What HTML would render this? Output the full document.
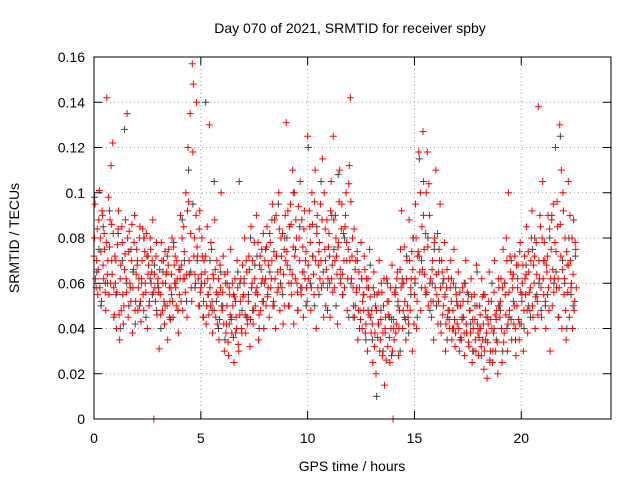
<!DOCTYPE html>
<html><head><meta charset="utf-8"><style>
body{margin:0;background:#fff}
svg{display:block;font-family:"Liberation Sans",sans-serif}
</style></head><body>
<svg id="chart" width="640" height="480" viewBox="0 0 640 480">
<text x="350" y="33" text-anchor="middle" font-size="14">Day 070 of 2021, SRMTID for receiver spby</text>
<text transform="translate(19,238) rotate(-90)" text-anchor="middle" font-size="14">SRMTID / TECUs</text>
<text x="352" y="471" text-anchor="middle" font-size="14">GPS time / hours</text>
<g id="grid"></g>
<g id="ticks"></g>
<g id="black"></g>
<g id="red"></g>
<rect x="94" y="57" width="517" height="362" fill="none" stroke="#000" stroke-width="1"/>
</svg>
<script>
const yTicks=[0,0.02,0.04,0.06,0.08,0.1,0.12,0.14,0.16];
const yTickLabels=["0","0.02","0.04","0.06","0.08","0.1","0.12","0.14","0.16"];
const xTicks=[0,5,10,15,20];
const xTickLabels=["0","5","10","15","20"];
const binHours=0.2;
// red series, values in thousandths of TECU, 4 samples per 0.2 h bin
const redBins=[
[72,95,58,84],[66,101,80,52],[90,62,75,48],[142,70,55,88],[112,64,82,46],
[60,40,77,92],[35,68,85,55],[50,73,62,135],[45,83,58,70],[38,66,90,52],
[75,48,62,85],[43,70,55,80],[60,82,40,68],[52,75,65,88],[0,58,72,46],
[62,31,55,78],[48,70,42,60],[65,35,75,52],[58,80,45,68],[72,50,62,38],
[55,90,68,48],[85,62,100,45],[120,70,135,58],[157,148,80,60],[140,72,50,92],
[58,80,45,70],[65,42,85,55],[130,50,75,38],[62,88,45,70],[55,35,68,100],
[48,72,30,60],[42,65,28,55],[75,38,50,25],[62,45,70,33],[105,52,40,68],
[55,80,38,65],[45,72,32,85],[60,42,78,50],[90,55,35,68],[48,75,62,40],
[70,50,85,58],[45,78,62,95],[52,88,40,72],[65,100,48,80],[58,42,75,90],
[131,68,50,85],[95,55,110,42],[72,88,60,48],[80,105,55,65],[45,92,70,58],
[125,62,85,48],[100,72,55,110],[40,90,68,78],[95,58,115,45],[75,50,88,62],
[82,45,105,68],[125,58,90,72],[42,78,110,60],[95,55,70,85],[100,48,75,112],
[142,62,80,50],[45,70,58,35],[65,48,78,40],[55,72,38,62],[30,58,75,45],
[48,25,65,38],[20,55,42,70],[35,60,28,50],[15,45,62,32],[52,25,40,68],
[0,35,55,42],[65,28,48,75],[92,40,60,52],[35,70,45,88],[48,62,30,80],
[55,95,40,72],[118,65,48,85],[127,75,58,100],[118,50,90,62],[45,70,35,80],
[110,55,42,75],[95,38,65,50],[78,30,58,45],[62,40,70,35],[48,75,32,55],
[42,65,30,50],[35,58,45,28],[70,38,52,32],[48,62,25,40],[55,35,68,42],
[28,50,40,62],[35,22,55,45],[18,42,65,30],[52,25,38,70],[30,48,20,58],
[45,62,25,75],[38,55,80,30],[100,48,65,35],[58,42,72,28],[50,68,35,78],
[42,60,30,72],[55,85,38,65],[48,70,92,45],[60,40,78,52],[138,62,85,45],
[105,55,70,40],[65,90,48,30],[75,50,95,62],[120,58,85,45],[130,72,40,100],
[55,80,35,68],[105,45,70,60],[40,88,52,75]];
// second red satellite group
const redBins2=[
[80,62,70,55],[88,58,74,92],[68,82,56,78],[64,98,76,60],[86,122,58,72],
[70,56,84,46],[62,48,78,42],[66,88,56,80],[74,60,52,86],[58,78,48,64],
[68,58,80,52],[62,84,48,74],[56,72,64,50],[80,60,70,56],[64,52,78,60],
[56,66,46,70],[60,52,74,64],[50,68,58,44],[64,52,76,60],[58,70,48,66],
[66,52,80,62],[74,56,64,92],[96,64,82,52],[118,72,64,90],[76,62,84,56],
[64,72,52,60],[72,50,62,46],[58,78,52,64],[48,66,56,42],[62,44,58,50],
[56,42,64,38],[50,34,58,46],[44,60,36,54],[52,40,58,30],[46,62,38,54],
[60,46,70,42],[52,66,44,58],[70,48,62,56],[58,78,46,72],[66,52,82,60],
[62,76,54,68],[82,58,70,50],[74,62,90,56],[58,84,66,72],[82,64,50,70],
[74,92,60,66],[86,64,76,100],[62,80,56,94],[70,58,88,76],[84,62,74,52],
[68,92,78,58],[86,64,96,70],[82,58,74,62],[70,88,60,100],[84,66,58,76],
[72,92,62,56],[88,70,80,64],[76,96,66,84],[64,82,58,90],[78,62,104,70],
[96,72,58,84],[66,56,74,48],[58,44,62,52],[48,66,42,58],[62,46,54,38],
[42,58,32,50],[48,36,56,30],[44,56,38,62],[40,26,52,46],[36,58,44,30],
[44,56,38,62],[52,40,66,58],[60,48,76,44],[62,50,42,70],[58,74,66,42],
[62,80,52,74],[72,100,58,66],[90,64,82,56],[76,104,60,52],[66,52,78,58],
[64,82,52,70],[58,70,46,62],[54,42,66,48],[44,58,52,40],[60,44,38,52],
[50,40,56,36],[44,52,38,60],[42,56,34,48],[38,54,44,30],[44,30,50,38],
[36,46,32,54],[42,30,48,38],[34,52,26,44],[40,30,56,46],[44,34,62,50],
[52,40,58,34],[60,46,70,42],[56,72,44,62],[64,50,40,68],[58,44,74,56],
[52,68,48,62],[64,48,74,56],[58,80,50,68],[72,54,64,46],[70,90,58,80],
[62,78,52,68],[72,58,84,62],[88,66,56,78],[74,96,62,58],[86,110,66,92],
[62,48,74,56],[68,90,58,80],[64,48,78,58]];
// black series, 2 samples per bin
const blackBins=[
[98,65],[75,50],[85,60],[60,92],[70,45],
[55,82],[40,70],[128,60],[50,75],[65,42],
[70,50],[60,80],[45,72],[62,55],[68,48],
[58,40],[65,50],[72,45],[55,78],[60,48],
[62,88],[70,52],[110,65],[95,58],[70,50],
[60,45],[140,55],[70,48],[105,52],[40,65],
[50,35],[60,42],[45,55],[38,65],[60,48],
[62,45],[55,80],[48,68],[72,40],[60,52],
[75,55],[65,88],[50,72],[95,60],[55,80],
[80,50],[60,100],[75,48],[85,58],[65,50],
[120,60],[72,50],[85,55],[105,65],[70,48],
[60,90],[75,50],[108,62],[55,80],[70,45],
[60,45],[50,70],[40,62],[55,35],[48,68],
[35,55],[10,42],[48,30],[38,60],[45,28],
[40,58],[50,30],[62,45],[72,38],[55,80],
[60,45],[115,70],[105,55],[80,48],[60,75],
[50,65],[42,60],[55,35],[48,62],[40,58],
[50,35],[45,60],[38,55],[42,30],[50,65],
[40,28],[55,35],[45,25],[60,40],[35,50],
[48,30],[60,40],[45,70],[52,35],[62,42],
[55,40],[68,50],[45,75],[80,55],[60,48],
[70,50],[55,80],[90,60],[65,45],[125,70],
[60,40],[80,55],[50,72]];

const L=94,R=611,T=57,B=419,XMAX=24.2,YMAX=0.16;
const xs=t=>L+(R-L)*t/XMAX;
const ys=v=>B-(B-T)*v/YMAX;
const NS="http://www.w3.org/2000/svg";
function mk(tag,attrs,parent){const e=document.createElementNS(NS,tag);for(const k in attrs)e.setAttribute(k,attrs[k]);parent.appendChild(e);return e;}
const grid=document.getElementById('grid'),ticks=document.getElementById('ticks');
yTicks.forEach((v,i)=>{
  const y=ys(v);
  if(i>0&&i<yTicks.length-1){const g=mk('line',{x1:L,x2:R,y1:y,y2:y,stroke:'#a0a0a0','stroke-dasharray':'1,3'},grid);
  
  }
  mk('line',{x1:L,x2:L+8,y1:y,y2:y,stroke:'#000'},ticks);
  mk('line',{x1:R-8,x2:R,y1:y,y2:y,stroke:'#000'},ticks);
  const t=mk('text',{x:L-9,y:y+5,'text-anchor':'end','font-size':'14'},ticks);
  
  
  t.textContent=yTickLabels[i];
});
xTicks.forEach((v,i)=>{
  const x=xs(v);
  if(i>0){const g=mk('line',{x1:x,x2:x,y1:T,y2:B,stroke:'#a0a0a0','stroke-dasharray':'1,3'},grid);
  
  }
  mk('line',{x1:x,x2:x,y1:B,y2:B-8,stroke:'#000'},ticks);
  mk('line',{x1:x,x2:x,y1:T,y2:T+8,stroke:'#000'},ticks);
  const t=mk('text',{x:x,y:B+24,'text-anchor':'middle','font-size':'14'},ticks);
  
  
  t.textContent=xTickLabels[i];
});
function draw(bins,gid,color,offset,name){
  const g=document.getElementById(gid);
  bins.forEach((vals,b)=>{
    vals.forEach((v,j)=>{
      const t=b*binHours+(j+offset)*binHours/vals.length;
      const x=xs(t),y=ys(v/1000);
      const p=mk('path',{d:`M${x-3.5},${y}h7M${x},${y-3.5}v7`,stroke:color,'stroke-width':'1'},g);
      
      
    });
  });
}
draw(blackBins,'black','#444',0.3,'black-point');
draw(redBins2,'red','#ff0000',0.5,'red-point');
draw(redBins,'red','#ff0000',0,'red-point');
</script>
</body></html>
